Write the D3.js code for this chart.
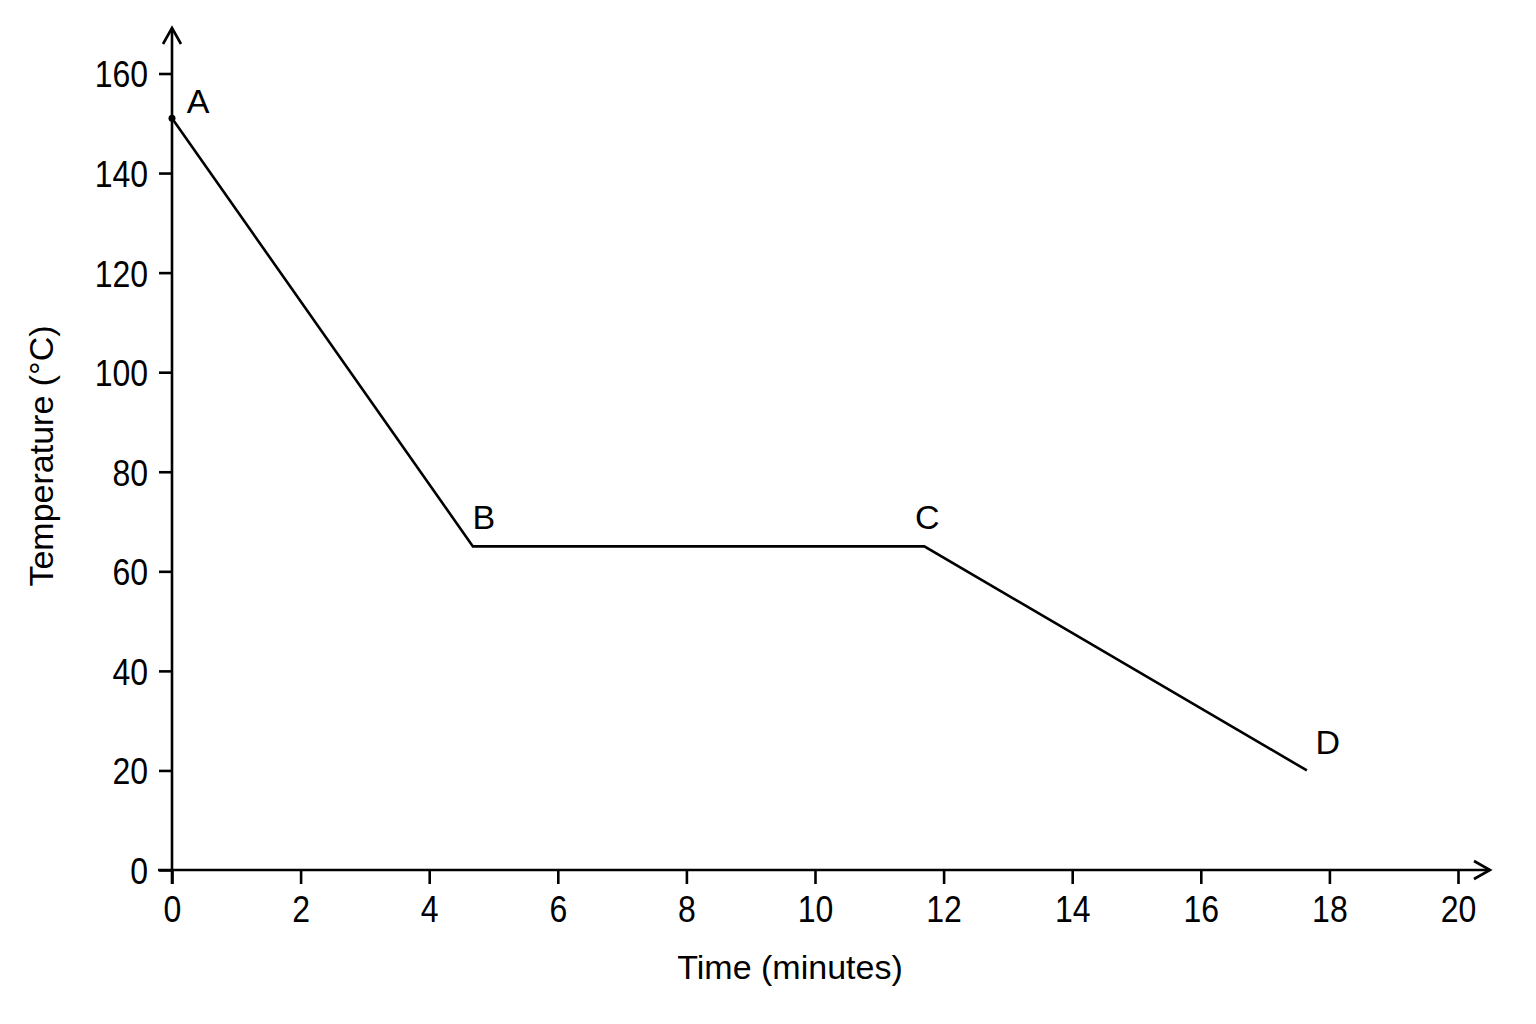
<!DOCTYPE html>
<html>
<head>
<meta charset="utf-8">
<script src="https://cdn.jsdelivr.net/npm/d3@7"></script>
<style>
  html, body { margin: 0; padding: 0; background: #fff; }
  svg { display: block; }
  text { font-family: "Liberation Sans", Arial, Helvetica, sans-serif; fill: #000; }
</style>
</head>
<body>
<script>
// ---- data ----
const pointLabels = ["A", "B", "C", "D"];
const timeValues = [0, 4.68, 11.7, 17.65];
const tempValues = [151, 65, 65, 20];
const xTicks = [0, 2, 4, 6, 8, 10, 12, 14, 16, 18, 20];
const yTicks = [0, 20, 40, 60, 80, 100, 120, 140, 160];
const xTitle = "Time (minutes)";
const yTitle = "Temperature (°C)";

const W = 1536, H = 1024;
const svg = d3.select("body").append("svg").attr("width", W).attr("height", H);

const x = d3.scaleLinear().domain([0, 20]).range([172, 1458]);
const y = d3.scaleLinear().domain([0, 160]).range([870, 73.5]);

const stroke = "#000";
const sw = 2.6;
const tickFont = 32;
const stretch = 1.17;

// y axis
const yAxis = d3.axisLeft(y).tickValues(yTicks).tickSize(13).tickPadding(11).tickFormat(d3.format("d"));
const gy = svg.append("g").attr("transform", `translate(${x(0)},0)`).call(yAxis);
gy.select(".domain").remove();
gy.selectAll(".tick line").attr("stroke", stroke).attr("stroke-width", sw);
gy.selectAll(".tick text").attr("font-size", tickFont).attr("dy", "0.358em")
  .attr("transform", `scale(1,${stretch})`)
  .style("font-family", '"Liberation Sans", Arial, sans-serif').attr("fill", "#000");

// x axis
const xAxis = d3.axisBottom(x).tickValues(xTicks).tickSize(14).tickPadding(12).tickFormat(d3.format("d"));
const gx = svg.append("g").attr("transform", `translate(0,${y(0)})`).call(xAxis);
gx.select(".domain").remove();
gx.selectAll(".tick line").attr("stroke", stroke).attr("stroke-width", sw);
gx.selectAll(".tick text").attr("font-size", tickFont).attr("dy", 0).attr("y", 52 / stretch)
  .attr("transform", `scale(1,${stretch})`)
  .style("font-family", '"Liberation Sans", Arial, sans-serif').attr("fill", "#000");

// axis lines with arrows
const y0 = y(0), x0 = x(0);
svg.append("line").attr("x1", x0).attr("x2", x0).attr("y1", y0 + 14).attr("y2", 28)
  .attr("stroke", stroke).attr("stroke-width", sw);
svg.append("path").attr("d", `M${x0 - 9},44 L${x0},28 L${x0 + 9},44`)
  .attr("fill", "none").attr("stroke", stroke).attr("stroke-width", sw);
svg.append("line").attr("x1", x0 - 14).attr("x2", 1490).attr("y1", y0).attr("y2", y0)
  .attr("stroke", stroke).attr("stroke-width", sw);
svg.append("path").attr("d", `M1474,${y0 - 9} L1490,${y0} L1474,${y0 + 9}`)
  .attr("fill", "none").attr("stroke", stroke).attr("stroke-width", sw);

// data line
const pts = timeValues.map((t, i) => ({ t, v: tempValues[i], label: pointLabels[i] }));
const line = d3.line().x(d => x(d.t)).y(d => y(d.v));
svg.append("path").datum(pts).attr("d", line)
  .attr("fill", "none").attr("stroke", stroke).attr("stroke-width", sw).attr("stroke-linejoin", "miter");

// dot at A
svg.append("circle").attr("cx", x(pts[0].t)).attr("cy", y(pts[0].v)).attr("r", 3.5).attr("fill", "#000");

// point labels
const labelOffsets = { A: [26, -5], B: [11, -17], C: [3, -17], D: [21, -16] };
svg.selectAll(".plabel").data(pts).enter().append("text")
  .attr("class", "plabel")
  .attr("x", d => x(d.t) + labelOffsets[d.label][0])
  .attr("y", d => y(d.v) + labelOffsets[d.label][1])
  .attr("text-anchor", "middle")
  .attr("font-size", 34)
  .text(d => d.label);

// axis titles
svg.append("text").attr("x", 790).attr("y", 979).attr("text-anchor", "middle")
  .attr("font-size", 34).text(xTitle);
svg.append("text").attr("transform", "translate(53,456) rotate(-90)").attr("text-anchor", "middle")
  .attr("font-size", 34).text(yTitle);
</script>
</body>
</html>
